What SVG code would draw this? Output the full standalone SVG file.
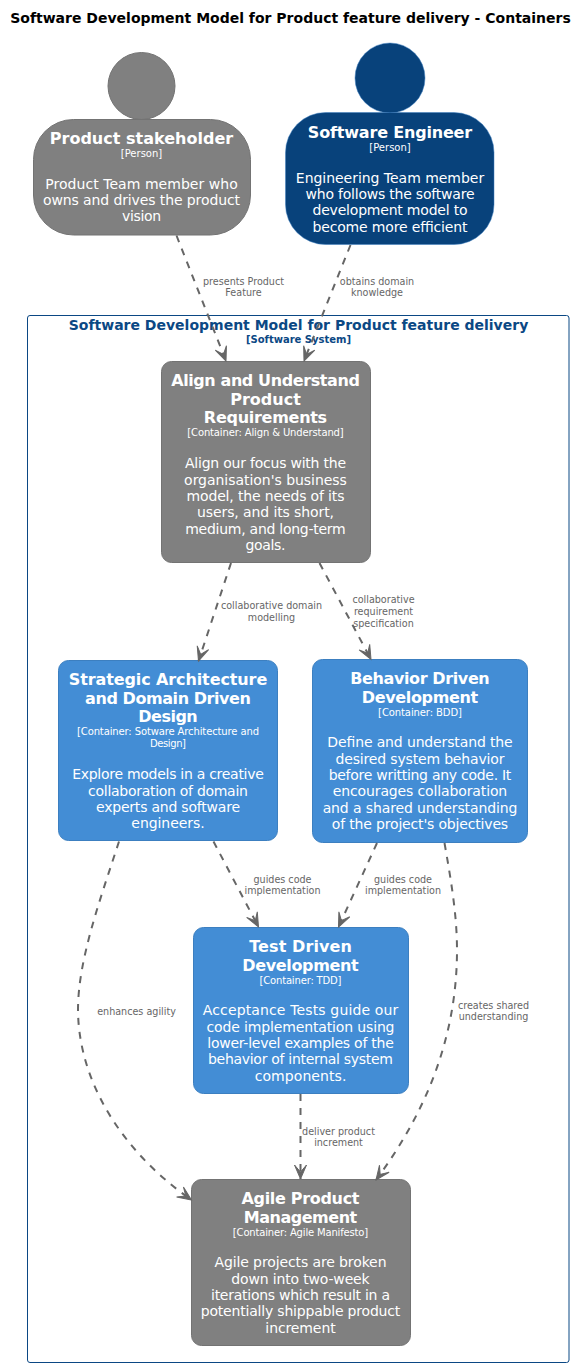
<svg xmlns="http://www.w3.org/2000/svg" width="588" height="1367" viewBox="0 0 588 1367">
<style>
text{font-family:"DejaVu Sans",Verdana,sans-serif;text-anchor:middle}
.title{font-size:14px;font-weight:bold;fill:#000}
.bname{font-size:14px;font-weight:bold;fill:#0B4884}
.bsub{font-size:10px;font-weight:bold;fill:#0B4884}
.name{font-size:16px;font-weight:bold;fill:#fff}
.sub{font-size:10px;fill:#fff}
.desc{font-size:14px;fill:#fff}
.lbl{font-size:9.6px;fill:#666}
.gray{fill:#808080;stroke:#737373;stroke-width:1}
.navy{fill:#08427B;stroke:#3C7FC0;stroke-width:.5}
.blue{fill:#438DD5;stroke:#3C7FC0;stroke-width:1}
.edge{fill:none;stroke:#666;stroke-width:2;stroke-dasharray:7 7;marker-end:url(#arrow)}
</style>
<defs>
<marker id="arrow" markerUnits="userSpaceOnUse" markerWidth="20" markerHeight="16" refX="15" refY="8" orient="auto" overflow="visible">
<path d="M1,2 L15,8 L1,14 L8,8 Z" fill="#666" stroke="#666" stroke-width="1"/>
</marker>
</defs>
<text class="title" x="290.5" y="23">Software Development Model for Product feature delivery - Containers</text>
<g id="boundary">
<rect x="27.5" y="315.5" width="541.5" height="1047" rx="2.5" fill="none" stroke="#0B4884" stroke-width="1"/>
<text class="bname" x="298.5" y="330">Software Development Model for Product feature delivery</text>
<text class="bsub" x="298.5" y="343">[Software System]</text>
</g>
<g id="product-stakeholder">
<circle class="gray" cx="141.5" cy="86" r="33.5"/>
<rect class="gray" x="33.5" y="119.5" width="217" height="115.5" rx="40"/>
<text class="name" x="141.5" y="143.7" textLength="183.5">Product stakeholder</text>
<text class="sub" x="141.5" y="156.7">[Person]</text>
<text class="desc" x="141.5" y="189" textLength="192.5">Product Team member who</text>
<text class="desc" x="141.5" y="205" textLength="197">owns and drives the product</text>
<text class="desc" x="141.5" y="221" textLength="39">vision</text>
</g>
<g id="software-engineer">
<circle class="navy" cx="390" cy="78" r="35"/>
<rect class="navy" x="285.5" y="112.5" width="208.5" height="132" rx="40"/>
<text class="name" x="390" y="137.7" textLength="164.3">Software Engineer</text>
<text class="sub" x="390" y="150.7">[Person]</text>
<text class="desc" x="390" y="182.5" textLength="188.3">Engineering Team member</text>
<text class="desc" x="390" y="198.8" textLength="169">who follows the software</text>
<text class="desc" x="390" y="215" textLength="155">development model to</text>
<text class="desc" x="390" y="231.5" textLength="155">become more efficient</text>
</g>
<g id="align">
<rect class="gray" x="161.5" y="361.5" width="209" height="201" rx="10"/>
<text class="name" x="265.5" y="385.7" textLength="188.7">Align and Understand</text>
<text class="name" x="265.5" y="405" textLength="70.7">Product</text>
<text class="name" x="265.5" y="423" textLength="123.3">Requirements</text>
<text class="sub" x="265.5" y="435.7" textLength="156.4">[Container: Align &amp; Understand]</text>
<text class="desc" x="265.5" y="468.3" textLength="161">Align our focus with the</text>
<text class="desc" x="265.5" y="484.6" textLength="162.8">organisation's business</text>
<text class="desc" x="265.5" y="501" textLength="158">model, the needs of its</text>
<text class="desc" x="265.5" y="517" textLength="137">users, and its short,</text>
<text class="desc" x="265.5" y="533.6" textLength="160.5">medium, and long-term</text>
<text class="desc" x="265.5" y="550" textLength="40">goals.</text>
</g>
<g id="strategic">
<rect class="blue" x="58.5" y="660.5" width="219" height="180" rx="10"/>
<text class="name" x="168" y="685" textLength="198.5">Strategic Architecture</text>
<text class="name" x="168" y="704" textLength="165.8">and Domain Driven</text>
<text class="name" x="168" y="722" textLength="59.4">Design</text>
<text class="sub" x="168" y="735" textLength="182">[Container: Sotware Architecture and</text>
<text class="sub" x="168" y="746.7" textLength="36">Design]</text>
<text class="desc" x="168" y="779.3" textLength="191.7">Explore models in a creative</text>
<text class="desc" x="168" y="795.6" textLength="159.8">collaboration of domain</text>
<text class="desc" x="168" y="812" textLength="144">experts and software</text>
<text class="desc" x="168" y="828.3" textLength="73.3">engineers.</text>
</g>
<g id="bdd">
<rect class="blue" x="312.5" y="659.5" width="215" height="183" rx="10"/>
<text class="name" x="420" y="684" textLength="139.5">Behavior Driven</text>
<text class="name" x="420" y="703.3" textLength="116.5">Development</text>
<text class="sub" x="420" y="715.7" textLength="83.8">[Container: BDD]</text>
<text class="desc" x="420" y="747.3" textLength="185.3">Define and understand the</text>
<text class="desc" x="420" y="763.6" textLength="168.8">desired system behavior</text>
<text class="desc" x="420" y="780" textLength="182.7">before writting any code. It</text>
<text class="desc" x="420" y="796.3" textLength="174.4">encourages collaboration</text>
<text class="desc" x="420" y="812.6" textLength="194.7">and a shared understanding</text>
<text class="desc" x="420" y="829" textLength="176.3">of the project's objectives</text>
</g>
<g id="tdd">
<rect class="blue" x="193.5" y="927.5" width="215" height="166" rx="10"/>
<text class="name" x="300.5" y="952" textLength="102.6">Test Driven</text>
<text class="name" x="300.5" y="971" textLength="116.5">Development</text>
<text class="sub" x="300.5" y="983.7" textLength="82">[Container: TDD]</text>
<text class="desc" x="300.5" y="1015" textLength="195.5">Acceptance Tests guide our</text>
<text class="desc" x="300.5" y="1031.5" textLength="188">code implementation using</text>
<text class="desc" x="300.5" y="1048" textLength="186.5">lower-level examples of the</text>
<text class="desc" x="300.5" y="1064" textLength="185">behavior of internal system</text>
<text class="desc" x="300.5" y="1080.5" textLength="91.7">components.</text>
</g>
<g id="agile">
<rect class="gray" x="191.5" y="1179.5" width="219" height="166" rx="10"/>
<text class="name" x="300.5" y="1204" textLength="118">Agile Product</text>
<text class="name" x="300.5" y="1223" textLength="113.5">Management</text>
<text class="sub" x="300.5" y="1235.7" textLength="135.3">[Container: Agile Manifesto]</text>
<text class="desc" x="300.5" y="1267.3" textLength="172">Agile projects are broken</text>
<text class="desc" x="300.5" y="1283.6" textLength="138.3">down into two-week</text>
<text class="desc" x="300.5" y="1300" textLength="179">iterations which result in a</text>
<text class="desc" x="300.5" y="1316.3" textLength="199.6">potentially shippable product</text>
<text class="desc" x="300.5" y="1332.6" textLength="70.3">increment</text>
</g>
<g id="connectors">
<path class="edge" d="M176.5,235.5 L226,361"/>
<path class="edge" d="M350.5,245 L304,361"/>
<path class="edge" d="M231,563 L198.5,661"/>
<path class="edge" d="M319.5,563 L371,659.5"/>
<path class="edge" d="M213.5,841.5 L258.5,927"/>
<path class="edge" d="M377,843 L338.5,927"/>
<path class="edge" d="M119,841.5 C100,900 78,960 78,1010 C78.500,1080 120,1150 191.500,1200"/>
<path class="edge" d="M444.500,843 C451,880 457,915 457,950 C457,1040 424,1115 376,1180"/>
<path class="edge" d="M300.500,1094 L300.500,1179"/>
<text class="lbl" x="243.500" y="285">presents Product</text>
<text class="lbl" x="243.500" y="296">Feature</text>
<text class="lbl" x="377" y="285">obtains domain</text>
<text class="lbl" x="377" y="296">knowledge</text>
<text class="lbl" x="271.500" y="608.700">collaborative domain</text>
<text class="lbl" x="271.500" y="621">modelling</text>
<text class="lbl" x="383.500" y="603.300">collaborative</text>
<text class="lbl" x="383.500" y="615">requirement</text>
<text class="lbl" x="383.500" y="626.700">specification</text>
<text class="lbl" x="282.500" y="882.700">guides code</text>
<text class="lbl" x="282.500" y="893.700">implementation</text>
<text class="lbl" x="403" y="882.700">guides code</text>
<text class="lbl" x="403" y="893.700">implementation</text>
<text class="lbl" x="136.500" y="1014.700">enhances agility</text>
<text class="lbl" x="493.500" y="1008.700">creates shared</text>
<text class="lbl" x="493.500" y="1019.700">understanding</text>
<text class="lbl" x="338.500" y="1134.700">deliver product</text>
<text class="lbl" x="338.500" y="1145.700">increment</text>
</g>
</svg>
